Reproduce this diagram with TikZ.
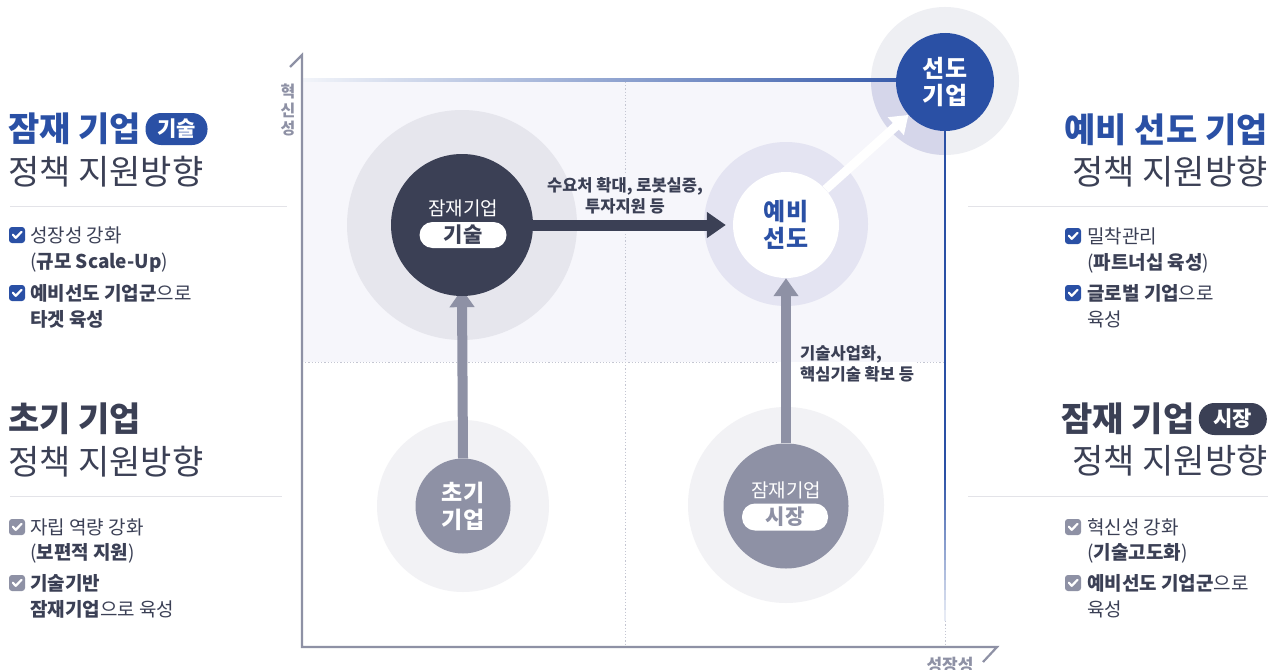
\documentclass[tikz,border=0pt]{standalone}
\usepackage{fontspec}
\setmainfont{Noto Sans CJK KR}
\newfontfamily\heavy{Noto Sans CJK KR}[UprightFont={* Black}]
\usetikzlibrary{arrows.meta,calc}
\pgfdeclarelayer{bg}
\pgfdeclarelayer{mid}
\pgfsetlayers{bg,mid,main}
\definecolor{navy}{HTML}{3B4055}
\definecolor{blu}{HTML}{2A50A5}
\definecolor{gry}{HTML}{8E91A5}
\definecolor{topfill}{HTML}{F6F6FB}
\definecolor{haloA}{HTML}{E6E6ED}
\definecolor{haloB}{HTML}{E4E4F2}
\definecolor{haloC}{HTML}{F2F2F5}
\definecolor{haloD}{HTML}{EEEFF3}
\definecolor{haloE}{HTML}{D5D6EA}
\definecolor{sepc}{HTML}{E3E3E8}
\definecolor{dotc}{HTML}{C4C6D2}
\newcommand{\myfs}[1]{\fontsize{#1}{#1}\selectfont}
\tikzset{
  halo/.style={circle, inner sep=0, draw=none},
  ball/.style={circle, inner sep=0, draw=none, align=center},
  dotln/.style={dotc, line width=1pt, dash pattern=on 1.2pt off 2pt},
  axisln/.style={gry, line width=2.2pt, line join=miter},
  sepln/.style={sepc, line width=1pt},
  hA/.style={font=\myfs{34}\heavy, inner sep=0},
  hB/.style={font=\myfs{34}, text=navy, inner sep=0},
  itm/.style={font=\myfs{19}, text=navy, inner sep=0, anchor=west},
  pillbox/.style={rounded corners=#1, inner sep=0},
  darrow/.style={navy, line width=11pt, -{Triangle[length=19pt,width=25pt]}},
  garrow/.style={gry, line width=10pt, -{Triangle[length=18pt,width=24pt]}},
  warrow/.style={white, line width=9pt, -{Triangle[length=17pt,width=23pt]}},
  lab/.style={font=\fontsize{16.5}{21}\selectfont\bfseries, text=navy, inner sep=0},
  axlab/.style={text=gry, inner sep=0},
  pics/cbox/.style={code={
    \fill[#1, rounded corners=3pt] (-8,-8) rectangle (8,8);
    \draw[white, line width=2.2pt, line cap=round, line join=round] (-4.2,-0.3) -- (-1.2,2.8) -- (4.5,-3.2);}}
}
\begin{document}
\begin{tikzpicture}[x=1pt,y=-1pt]
\useasboundingbox (0,0) rectangle (1281,669);

\begin{pgfonlayer}{bg}
\fill[white] (0,0) rectangle (1281,669);
% top half of the chart
\fill[topfill] (302,80) rectangle (945,362);
% halo of the leading firm
\node[halo, fill=haloD, minimum size=148pt] (sundoHalo) at (945,81) {};
\begin{scope}
  \clip (302,80) rectangle (945,362);
  \fill[haloE] (945,81) circle[radius=74pt];
\end{scope}
\node[halo, fill=haloA, minimum size=230pt] (kisulHalo) at (462,225) {};
\node[halo, fill=haloB, minimum size=164pt] (yebiHalo) at (786,224) {};
\node[halo, fill=haloC, minimum size=172pt] (chogiHalo) at (463,506) {};
\node[halo, fill=haloC, minimum size=196pt] (sijangHalo) at (786,505) {};
% dotted dividers
\draw[dotln] (625,82) -- (625,172);
\draw[dotln] (625,234) -- (625,646);
\draw[dotln] (302,362) -- (777,362);
\draw[dotln] (917,362) -- (945,362);
\draw[dotln] (945,362) -- (945,646);
% borders
\shade[left color=blu!6, right color=blu] (302,78.8) rectangle (945,81.3);
\draw[blu, line width=2.6pt] (945,80) -- (945,471);
\foreach \k in {0,...,14} {
  \pgfmathsetmacro\pc{100-6.3*\k}
  \draw[blu!\pc, line width=2.6pt] (945,470+10*\k) -- (945,481+10*\k);
}
% axes
\draw[axisln] (290,67) -- (302,55) -- (302,647) -- (997,647) -- (983,662);
% separators
\draw[sepln] (10,206) -- (287,206);
\draw[sepln] (10,496) -- (282,496);
\draw[sepln] (968,206) -- (1268,206);
\draw[sepln] (968,496) -- (1268,496);
\end{pgfonlayer}

% axis labels
\node[axlab, align=center, font=\fontsize{16}{18.5}\selectfont\bfseries] (yaxis) at (288,110) {혁\\신\\성};
\node[axlab, font=\myfs{17}\bfseries] (xaxis) at (950,665) {성장성};

% main circles
\node[ball, fill=navy, minimum size=142pt] (kisul) at (462,225) {};
\node[inner sep=0, text=white, font=\myfs{19}] (kisulT) at (463,208) {잠재기업};
\node[pillbox=13pt, fill=white, text=navy, minimum width=87pt, minimum height=26pt, font=\myfs{21}\heavy] (kisulP) at (463,235) {기술};

\node[ball, fill=white, minimum size=106pt, text=blu, font=\fontsize{24}{27}\selectfont\heavy] (yebi) at (786,225) {예비\\선도};

\node[ball, fill=blu, minimum size=98pt, text=white, font=\fontsize{24}{27}\selectfont\heavy] (sundo) at (945,82) {선도\\기업};

\node[ball, fill=gry, minimum size=95pt, text=white, font=\fontsize{23}{27}\selectfont\heavy] (chogi) at (463,506) {초기\\기업};

\node[ball, fill=gry, minimum size=125pt] (sijang) at (786,506) {};
\node[inner sep=0, text=white, font=\myfs{19}] (sijangT) at (786,490) {잠재기업};
\node[pillbox=13pt, fill=white, text=gry, minimum width=86pt, minimum height=27pt, font=\myfs{21}\heavy] (sijangP) at (785,517) {시장};

% connectors
\begin{pgfonlayer}{mid}
\draw[darrow, shorten >=7pt] (kisul.east) -- (yebi.west);
\draw[garrow, shorten >=-7pt] (chogi.north) -- (kisul.south);
\draw[garrow] (sijang.north) -- (yebi.south);
\draw[warrow] (yebi) -- (sundo);
\end{pgfonlayer}

% connector labels
\node[lab, align=center] (lab1) at (625,196) {수요처 확대, 로봇실증,\\투자지원 등};
\node[lab, align=left, anchor=west] (lab2) at (800,364) {기술사업화,\\핵심기술 확보 등};

% ---- left top block
\node[hA, text=blu, anchor=west] (hL1) at (8,129) {잠재 기업};
\node[pillbox=15.5pt, fill=blu, text=white, anchor=west, minimum width=62pt, minimum height=32pt, font=\myfs{21}\heavy] (pL1) at ([xshift=4pt]hL1.east) {기술};
\node[hB, anchor=west] (sL1) at (8,172) {정책 지원방향};
\pic at (17,235) {cbox=blu};
\node[itm] (iL1a) at (30,235) {성장성 강화};
\node[itm] (iL1b) at (30,263) {(\textbf{규모 Scale-Up})};
\pic at (17,293) {cbox=blu};
\node[itm] (iL1c) at (30,293) {\textbf{예비선도 기업군}으로};
\node[itm] (iL1d) at (30,319) {\textbf{타겟 육성}};

% ---- left bottom block
\node[hA, text=navy, anchor=west] (hL2) at (8,419) {초기 기업};
\node[hB, anchor=west] (sL2) at (8,462) {정책 지원방향};
\pic at (17,527) {cbox=gry};
\node[itm] (iL2a) at (30,527) {자립 역량 강화};
\node[itm] (iL2b) at (30,553) {(\textbf{보편적 지원})};
\pic at (17,583) {cbox=gry};
\node[itm] (iL2c) at (30,583) {\textbf{기술기반}};
\node[itm] (iL2d) at (30,609) {\textbf{잠재기업}으로 육성};

% ---- right top block
\node[hA, text=blu, anchor=east] (hR1) at (1268,130) {예비 선도 기업};
\node[hB, anchor=east] (sR1) at (1268,172) {정책 지원방향};
\pic at (1073,236) {cbox=blu};
\node[itm] (iR1a) at (1087,236) {밀착관리};
\node[itm] (iR1b) at (1087,263) {(\textbf{파트너십 육성})};
\pic at (1073,293) {cbox=blu};
\node[itm] (iR1c) at (1087,293) {\textbf{글로벌 기업}으로};
\node[itm] (iR1d) at (1087,319) {육성};

% ---- right bottom block
\node[pillbox=15.5pt, fill=navy, text=white, anchor=east, minimum width=68pt, minimum height=32pt, font=\myfs{21}\heavy] (pR2) at (1267,419) {시장};
\node[hA, text=navy, anchor=east] (hR2) at ([xshift=-4pt]pR2.west) {잠재 기업};
\node[hB, anchor=east] (sR2) at (1268,461) {정책 지원방향};
\pic at (1073,527) {cbox=gry};
\node[itm] (iR2a) at (1087,527) {혁신성 강화};
\node[itm] (iR2b) at (1087,553) {(\textbf{기술고도화})};
\pic at (1073,583) {cbox=gry};
\node[itm] (iR2c) at (1087,583) {\textbf{예비선도 기업군}으로};
\node[itm] (iR2d) at (1087,609) {육성};
\end{tikzpicture}
\end{document}
